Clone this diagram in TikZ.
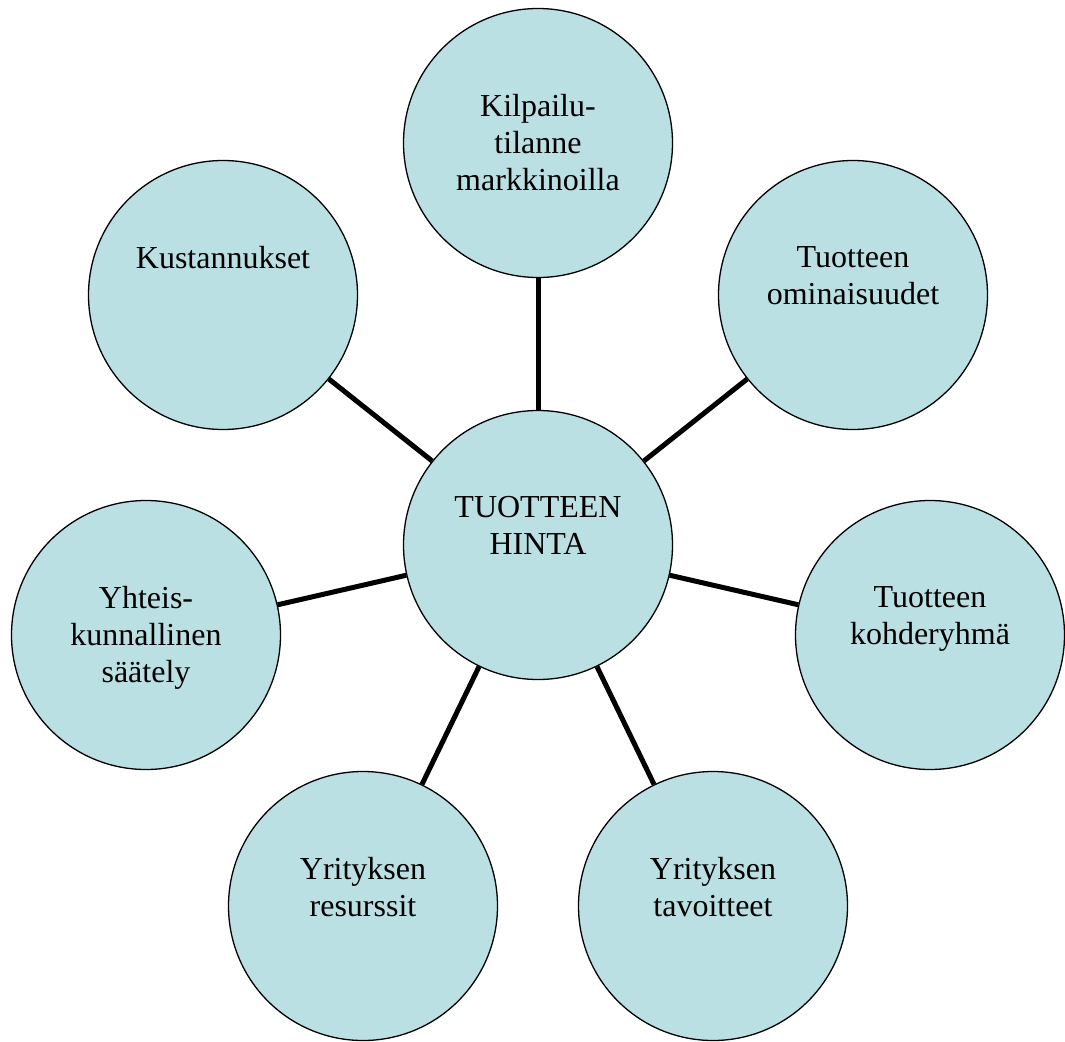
\documentclass[tikz,border=0pt]{standalone}
\usepackage{fontspec}
\setmainfont{Liberation Serif}
\definecolor{bub}{RGB}{187,224,227}
\begin{document}
\begin{tikzpicture}[x=1pt,y=-1pt,
  bubble/.style={circle,draw=black,line width=1.3pt,fill=bub,minimum size=269pt,inner sep=0pt},
  lbl/.style={anchor=north,inner sep=0pt,align=center,font=\fontsize{32}{37}\selectfont},
  link/.style={line width=5pt,draw=black}]
\useasboundingbox (0,0) rectangle (1065,1041);
% circles
\node[bubble] (hinta) at (538,545) {};
\node[bubble] (kilp) at (538,143) {};
\node[bubble] (kust) at (223,295) {};
\node[bubble] (omin) at (853,295) {};
\node[bubble] (yht) at (146,635) {};
\node[bubble] (kohde) at (930,635) {};
\node[bubble] (res) at (363,906) {};
\node[bubble] (tav) at (713,906) {};
% connectors
\draw[link] (hinta) -- (kilp);
\draw[link] (hinta) -- (kust);
\draw[link] (hinta) -- (omin);
\draw[link] (hinta) -- (yht);
\draw[link] (hinta) -- (kohde);
\draw[link] (hinta) -- (res);
\draw[link] (hinta) -- (tav);
% texts
\node[lbl] (thinta) at (538,496) {TUOTTEEN\\HINTA};
\node[lbl] (tkilp) at (538,94) {Kilpailu-\\tilanne\\markkinoilla};
\node[lbl] (tkust) at (223,246) {Kustannukset};
\node[lbl] (tomin) at (853,246) {Tuotteen\\ominaisuudet};
\node[lbl] (tyht) at (146,586) {Yhteis-\\kunnallinen\\säätely};
\node[lbl] (tkohde) at (930,586) {Tuotteen\\kohderyhmä};
\node[lbl] (tres) at (363,857) {Yrityksen\\resurssit};
\node[lbl] (ttav) at (713,857) {Yrityksen\\tavoitteet};
\end{tikzpicture}
\end{document}
